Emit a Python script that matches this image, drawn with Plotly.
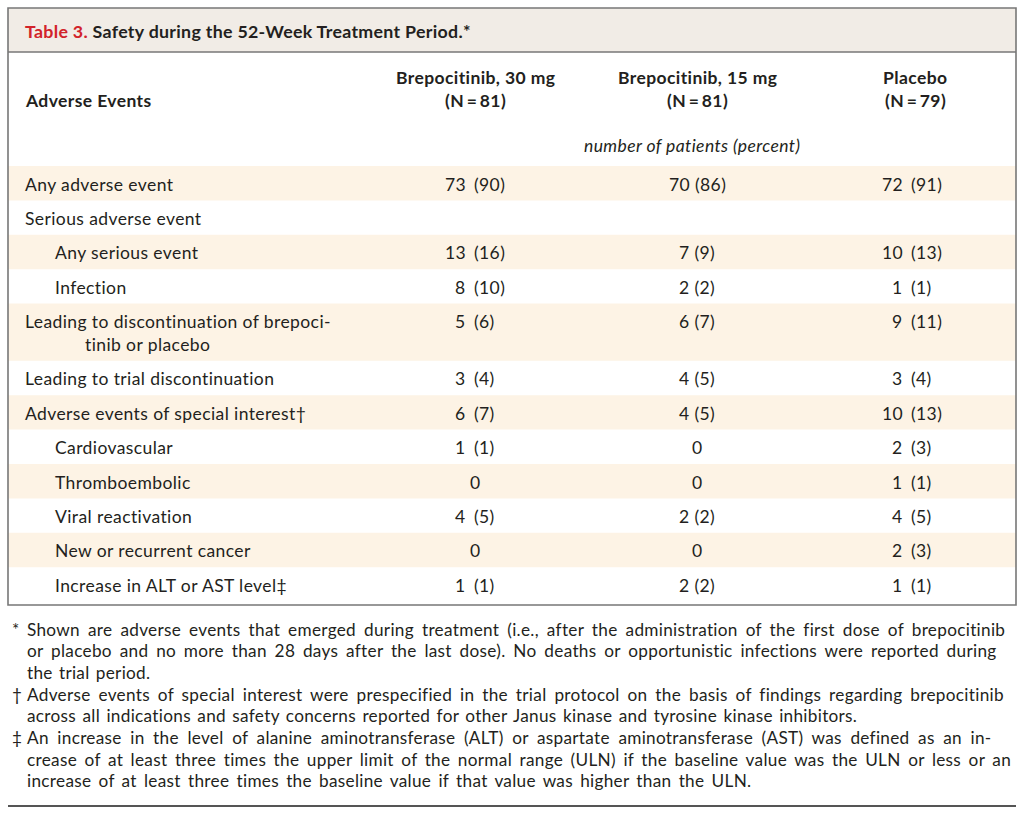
import plotly.graph_objects as go

# ---------------- data ----------------
title_label = "Table 3."
title_text = "Safety during the 52-Week Treatment Period.*"
stub_header = "Adverse Events"
col_headers = ["Brepocitinib, 30 mg", "Brepocitinib, 15 mg", "Placebo"]
col_ns = ["(N\u2009=\u200981)", "(N\u2009=\u200981)", "(N\u2009=\u200979)"]
unit_label = "number of patients (percent)"

row_labels = [
    "Any adverse event",
    "Serious adverse event",
    "Any serious event",
    "Infection",
    "Leading to discontinuation of brepoci-\ntinib or placebo",
    "Leading to trial discontinuation",
    "Adverse events of special interest\u2020",
    "Cardiovascular",
    "Thromboembolic",
    "Viral reactivation",
    "New or recurrent cancer",
    "Increase in ALT or AST level\u2021",
]
n_30 = [73, None, 13, 8, 5, 3, 6, 1, 0, 4, 0, 1]
pct_30 = [90, None, 16, 10, 6, 4, 7, 1, None, 5, None, 1]
n_15 = [70, None, 7, 2, 6, 4, 4, 0, 0, 2, 0, 2]
pct_15 = [86, None, 9, 2, 7, 5, 5, None, None, 2, None, 2]
n_pl = [72, None, 10, 1, 9, 3, 10, 2, 1, 4, 2, 1]
pct_pl = [91, None, 13, 1, 11, 4, 13, 3, 1, 5, 3, 1]

footnote_symbols = ["*", "\u2020", "\u2021"]
footnotes = [
    ["Shown are adverse events that emerged during treatment (i.e., after the administration of the first dose of brepocitinib",
     "or placebo and no more than 28 days after the last dose). No deaths or opportunistic infections were reported during",
     "the trial period."],
    ["Adverse events of special interest were prespecified in the trial protocol on the basis of findings regarding brepocitinib",
     "across all indications and safety concerns reported for other Janus kinase and tyrosine kinase inhibitors."],
    ["An increase in the level of alanine aminotransferase (ALT) or aspartate aminotransferase (AST) was defined as an in-",
     "crease of at least three times the upper limit of the normal range (ULN) if the baseline value was the ULN or less or an",
     "increase of at least three times the baseline value if that value was higher than the ULN."],
]

# ---------------- styling / layout ----------------
FONT = "Lato, 'Open Sans', sans-serif"
TXT = "#231f20"
RED = "#d2232a"
SHADE = "#fdf3e5"
TITLE_BG = "#f1ece6"
BORDER = "#777777"
FS = 17.5
LSP = "letter-spacing:0.4px"
FN_FS = 17.2
# per-line word spacing to imitate the justified footnote block
FN_WORD_SPACING = [3.3, 3.1, 1.5, 3.2, 1.7, 3.85, 2.8, 2.5]

indent = [0, 0, 1, 1, 0, 0, 0, 1, 1, 1, 1, 1]
shaded = [i % 2 == 0 for i in range(len(row_labels))]

W, H = 1024, 816
fig = go.Figure()
fig.add_trace(go.Scatter(x=[0, W], y=[0, H], mode="markers",
                         marker=dict(opacity=0), hoverinfo="skip", showlegend=False))

shapes = []
annotations = []

def ann(x, y, text, xanchor="left", size=FS, color=TXT, bold=False, italic=False, style=LSP):
    t = "<span style='%s'>%s</span>" % (style, text) if style else text
    if bold:
        t = "<b>" + t + "</b>"
    if italic:
        t = "<i>" + t + "</i>"
    annotations.append(dict(x=x, y=y, xref="x", yref="y", text=t, showarrow=False,
                            xanchor=xanchor, yanchor="middle",
                            font=dict(family=FONT, size=size, color=color)))

# box geometry
L, R, TOP, BOT = 8, 1016, 8, 605
TITLE_BOT = 52
ROW0 = 166
RH = 34.4
RH2 = 57.2

shapes.append(dict(type="rect", xref="x", yref="y", x0=L, x1=R, y0=TOP, y1=TITLE_BOT,
                   fillcolor=TITLE_BG, line=dict(width=0), layer="below"))

tops = []
y = ROW0
for i, lab in enumerate(row_labels):
    h = RH2 if "\n" in lab else RH
    tops.append((y, h))
    if shaded[i]:
        shapes.append(dict(type="rect", xref="x", yref="y", x0=L, x1=R, y0=y, y1=y + h,
                           fillcolor=SHADE, line=dict(width=0), layer="below"))
    y += h

shapes.append(dict(type="rect", xref="x", yref="y", x0=L, x1=R, y0=TOP, y1=BOT,
                   line=dict(color=BORDER, width=1.6), fillcolor="rgba(0,0,0,0)"))
shapes.append(dict(type="line", xref="x", yref="y", x0=L, x1=R, y0=TITLE_BOT, y1=TITLE_BOT,
                   line=dict(color=BORDER, width=1.4)))
shapes.append(dict(type="line", xref="x", yref="y", x0=L, x1=R, y0=806, y1=806,
                   line=dict(color="#555555", width=2)))

# title
ann(23, 31, "<span style='color:%s'>%s</span> %s" % (RED, title_label, title_text),
    size=17.8, bold=True, style="letter-spacing:0.3px")

# header
col_center = [475, 697, 915]
ann(23, 100, stub_header, bold=True)
for c in range(3):
    ann(col_center[c], 77, col_headers[c], xanchor="center", bold=True)
    ann(col_center[c], 100, col_ns[c], xanchor="center", bold=True)
ann(692, 145, unit_label, xanchor="center", italic=True)

# row labels
for i, lab in enumerate(row_labels):
    top, h = tops[i]
    x0 = 23 + 30 * indent[i]
    lines = lab.split("\n")
    ann(x0, top + 18, lines[0])
    for k, ln in enumerate(lines[1:]):
        ann(x0 + 60, top + 18 + 23 * (k + 1), ln)

# values
paren_x = [472, None, 909]
cols = [(n_30, pct_30), (n_15, pct_15), (n_pl, pct_pl)]
for c, (ns, ps) in enumerate(cols):
    for i in range(len(row_labels)):
        if ns[i] is None:
            continue
        top, h = tops[i]
        yy = top + 18
        if paren_x[c] is None:
            s = str(ns[i]) if ps[i] is None else "%d (%d)" % (ns[i], ps[i])
            ann(col_center[c], yy, s, xanchor="center")
        else:
            if ps[i] is None:
                ann(paren_x[c] + 3, yy, str(ns[i]), xanchor="center")
            else:
                ann(paren_x[c] - 4, yy, str(ns[i]), xanchor="right")
                ann(paren_x[c], yy, "(%d)" % ps[i], xanchor="left")

# footnotes
fy = 629
LS = 21.7
li = 0
for s, block in zip(footnote_symbols, footnotes):
    ann(10, fy, s, size=FN_FS, style=None)
    for ln in block:
        ann(25, fy, ln, size=FN_FS,
            style="letter-spacing:0.3px;word-spacing:%.2fpx" % FN_WORD_SPACING[li])
        fy += LS
        li += 1

fig.update_layout(
    width=W, height=H, margin=dict(l=0, r=0, t=0, b=0),
    paper_bgcolor="white", plot_bgcolor="white",
    xaxis=dict(range=[0, W], visible=False, fixedrange=True),
    yaxis=dict(range=[H, 0], visible=False, fixedrange=True),
    shapes=shapes, annotations=annotations, showlegend=False,
)
fig.write_html("out.html", config={"displayModeBar": False},
               post_script="document.body.style.margin='0px';")
